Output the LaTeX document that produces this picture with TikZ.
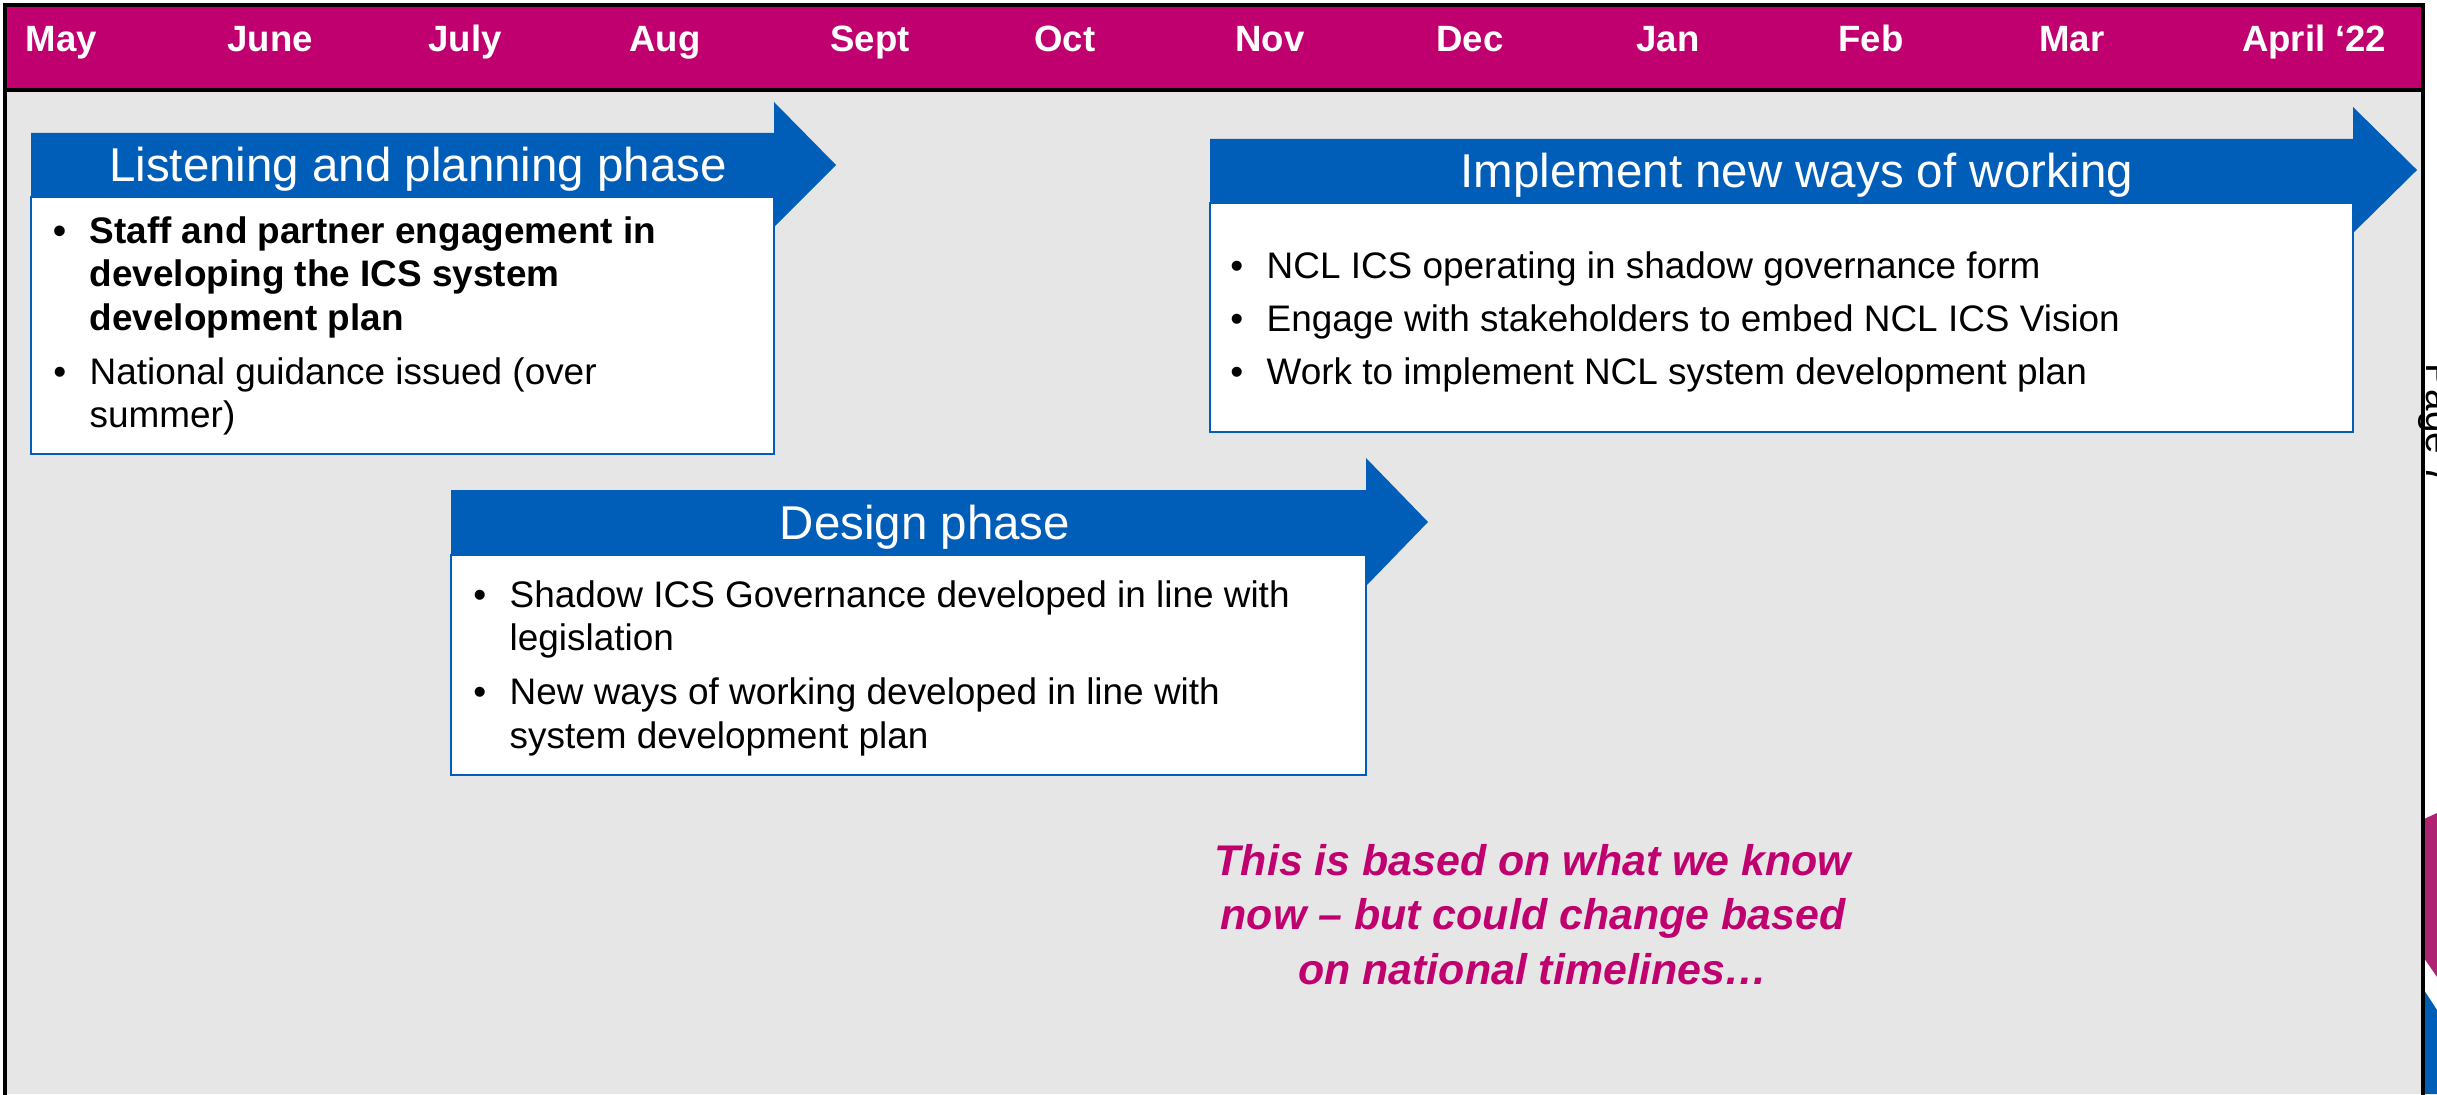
\documentclass[tikz,border=0pt]{standalone}
\usepackage{fontspec}
\setmainfont{Liberation Sans}

\definecolor{nclpink}{RGB}{192,0,111}
\definecolor{nclblue}{RGB}{0,94,184}
\definecolor{panelgrey}{RGB}{230,230,230}
\definecolor{tabpink}{RGB}{175,35,115}

% no hyphenation in the boxes
\hyphenpenalty=10000
\exhyphenpenalty=10000

% bullet hanging to the left of the text
\newcommand{\itm}{\noindent\llap{\textbullet\hspace{0.235cm}}}

\begin{document}
\begin{tikzpicture}[x=0.01cm,y=-0.01cm]

\tikzstyle{month}=[text=white,font=\fontsize{10.4}{12}\selectfont\bfseries,anchor=base,inner sep=0pt];
\tikzstyle{banner}=[fill=nclblue,draw=none];
\tikzstyle{phasebox}=[fill=white,draw=nclblue,line width=0.6pt];
\tikzstyle{title}=[text=white,font=\fontsize{13.5}{16}\selectfont,anchor=base,inner sep=0pt];
\tikzstyle{points}=[anchor=base west,inner sep=0pt,align=flush left,font=\fontsize{10.5}{12.5}\selectfont];

\useasboundingbox (0,0) rectangle (2437,1094);

% Draw the page and the month header
\fill[white] (0,0) rectangle (2437,1094);
\fill[panelgrey] (5,90) rectangle (2423,1094);
\fill[nclpink] (5,5) rectangle (2423,90);

\node[month,anchor=base west] (m1) at (25,52) {May};
\foreach \x/\m [count=\idx from 2] in {270/June,465/July,665/Aug,870/Sept,1065/Oct,1270/Nov,1470/Dec,1668/Jan,1871/Feb,2072/Mar}
  \node[month] (m\idx) at (\x,52) {\m};
\node[month,anchor=base east] (m12) at (2387,52) {April ‘22};

% Listening and planning phase
\draw[phasebox] (31,197) rectangle (774,454);
\fill[banner] (31,133) -- (774,133) -- (774,102) -- (836,165) -- (774,227) -- (774,197) -- (31,197) -- cycle;
\node[title] (t1) at (418,182) {Listening and planning phase};
\node[points,text width=6.2cm] (p1) at (89,243) {\setlength{\parskip}{2.6pt}%
  {\bfseries\itm Staff and partner engagement in developing the ICS system development plan\par}
  \itm National guidance issued (over summer)};

% Implement new ways of working
\draw[phasebox] (1210,203) rectangle (2353,432);
\fill[banner] (1210,139) -- (2353,139) -- (2353,107) -- (2417,170) -- (2353,233) -- (2353,203) -- (1210,203) -- cycle;
\node[title] (t2) at (1797,188) {Implement new ways of working};
\node[points,text width=10cm] (p2) at (1266,278) {\setlength{\parskip}{2.6pt}%
  \itm NCL ICS operating in shadow governance form\par
  \itm Engage with stakeholders to embed NCL ICS Vision\par
  \itm Work to implement NCL system development plan};

% Design phase
\draw[phasebox] (451,555) rectangle (1366,775);
\fill[banner] (451,490) -- (1366,490) -- (1366,458) -- (1428,522) -- (1366,586) -- (1366,555) -- (451,555) -- cycle;
\node[title] (t3) at (925,539) {Design phase};
\node[points,text width=8.1cm] (p3) at (509,607) {\setlength{\parskip}{2.6pt}%
  \itm Shadow ICS Governance developed in line with legislation\par
  \itm New ways of working developed in line with system development plan};

% Caveat (anchored on its last line)
\node[font=\fontsize{12.2}{15.4}\selectfont\bfseries\itshape,text=nclpink,align=center,anchor=base] (note) at (1533,984)
  {This is based on what we know\\now – but could change based\\on national timelines…};

% Edge of the next page
\begin{scope}
\clip (2410,0) rectangle (2437,1094);
\node[rotate=-90,anchor=base west,font=\fontsize{11}{13}\selectfont,inner sep=0pt] (pg) at (2426,363) {Page 7};
\fill[tabpink] (2424,819) -- (2437,813) -- (2437,977) -- (2424,958) -- cycle;
\fill[nclblue] (2424,990) -- (2437,1010) -- (2437,1094) -- (2424,1094) -- cycle;
\end{scope}

% Frame lines
\draw[line width=0.9pt] (5,1100) -- (5,5) -- (2423,5) -- (2423,1100)
  (5,90) -- (2423,90);

\end{tikzpicture}
\end{document}
